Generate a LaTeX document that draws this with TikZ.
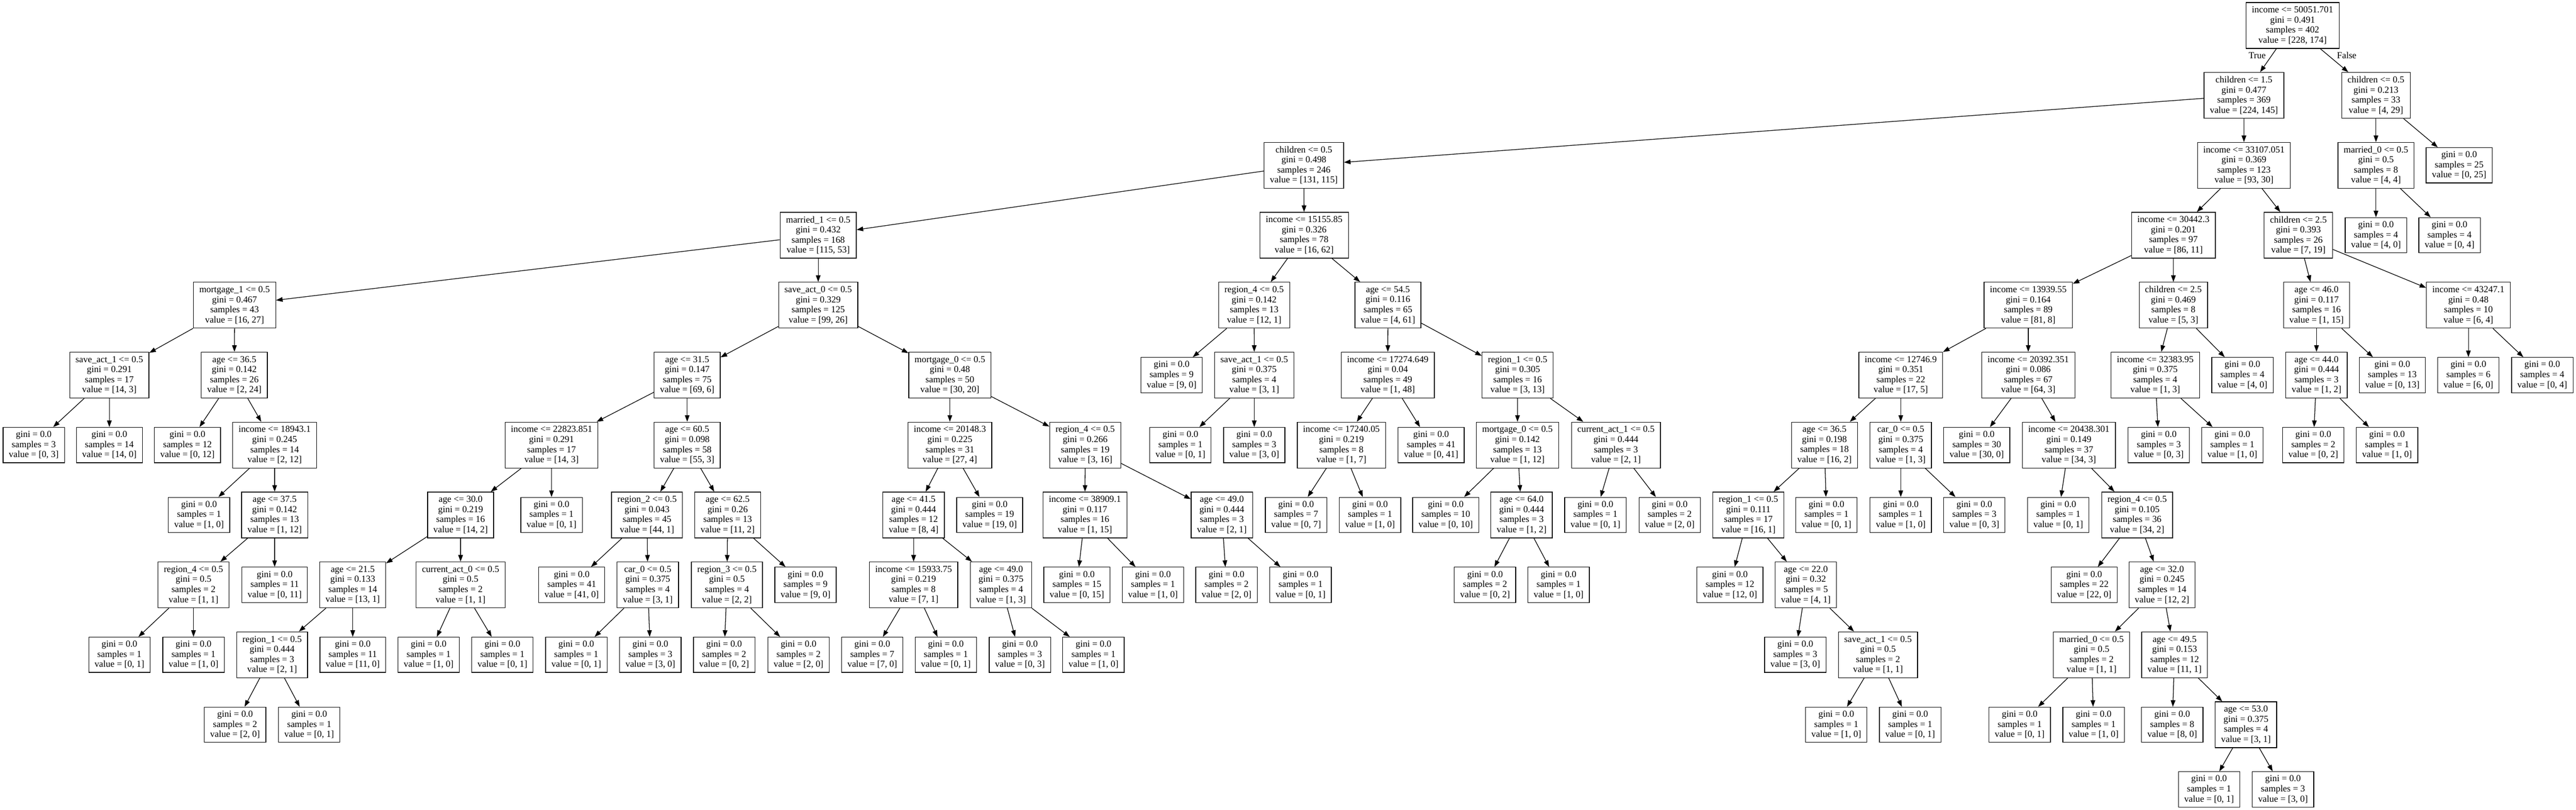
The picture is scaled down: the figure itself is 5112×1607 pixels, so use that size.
\documentclass[tikz,border=0pt]{standalone}
\usepackage{fontspec}
\setmainfont{Liberation Serif}
\usetikzlibrary{arrows.meta}
\newcommand\mkdec[7]{\node[dec] (#1) at (#2,#3) {#4\\gini = #5\\samples = #6\\value = #7};}
\newcommand\mkleaf[5]{\node[leaf] (#1) at (#2,#3) {gini = 0.0\\samples = #4\\value = #5};}
\begin{document}
\begin{tikzpicture}[x=1pt,y=-1pt,
  box/.style={draw=black, line width=1.3pt, rectangle, align=center, inner xsep=11.6pt, inner ysep=0pt, font=\fontsize{18.3}{20}\selectfont},
  dec/.style={box, minimum height=91pt},
  leaf/.style={box, minimum height=70pt},
  edge/.style={draw=black, line width=1.3pt, -{Triangle[length=13pt,width=9.2pt]}},
  lbl/.style={font=\fontsize{18.3}{20}\selectfont, inner sep=0pt}]
\fill[white] (0,0) rectangle (5112,1607);
\useasboundingbox (0,0) rectangle (5112,1607);
% rank 0
\mkdec{n0}{4549.5}{50.5}{income <= 50051.701}{0.491}{402}{[228, 174]}
% rank 1
\mkdec{n1}{4453}{189.25}{children <= 1.5}{0.477}{369}{[224, 145]}
\mkdec{n2}{4715}{189.25}{children <= 0.5}{0.213}{33}{[4, 29]}
% rank 2
\mkdec{n3}{2587.5}{328}{children <= 0.5}{0.498}{246}{[131, 115]}
\mkdec{n4}{4453}{328}{income <= 33107.051}{0.369}{123}{[93, 30]}
\mkdec{n5}{4715}{328}{married\_0 <= 0.5}{0.5}{8}{[4, 4]}
\mkleaf{n6}{4880}{328}{25}{[0, 25]}
% rank 3
\mkdec{n7}{1623.7}{466.75}{married\_1 <= 0.5}{0.432}{168}{[115, 53]}
\mkdec{n8}{2588}{466.75}{income <= 15155.85}{0.326}{78}{[16, 62]}
\mkdec{n9}{4313}{466.75}{income <= 30442.3}{0.201}{97}{[86, 11]}
\mkdec{n10}{4561}{466.75}{children <= 2.5}{0.393}{26}{[7, 19]}
\mkleaf{n11}{4715}{466.75}{4}{[4, 0]}
\mkleaf{n12}{4861}{466.75}{4}{[0, 4]}
% rank 4
\mkdec{n13}{465.5}{605.5}{mortgage\_1 <= 0.5}{0.467}{43}{[16, 27]}
\mkdec{n14}{1623.7}{605.5}{save\_act\_0 <= 0.5}{0.329}{125}{[99, 26]}
\mkdec{n15}{2488.8}{605.5}{region\_4 <= 0.5}{0.142}{13}{[12, 1]}
\mkdec{n16}{2754.3}{605.5}{age <= 54.5}{0.116}{65}{[4, 61]}
\mkdec{n17}{4025}{605.5}{income <= 13939.55}{0.164}{89}{[81, 8]}
\mkdec{n18}{4313}{605.5}{children <= 2.5}{0.469}{8}{[5, 3]}
\mkdec{n19}{4597}{605.5}{age <= 46.0}{0.117}{16}{[1, 15]}
\mkdec{n20}{4898.4}{605.5}{income <= 43247.1}{0.48}{10}{[6, 4]}
% rank 5
\mkdec{n21}{217}{744.25}{save\_act\_1 <= 0.5}{0.291}{17}{[14, 3]}
\mkdec{n22}{465}{744.25}{age <= 36.5}{0.142}{26}{[2, 24]}
\mkdec{n23}{1363.7}{744.25}{age <= 31.5}{0.147}{75}{[69, 6]}
\mkdec{n24}{1885}{744.25}{mortgage\_0 <= 0.5}{0.48}{50}{[30, 20]}
\mkleaf{n25}{2325}{744.25}{9}{[9, 0]}
\mkdec{n26}{2489}{744.25}{save\_act\_1 <= 0.5}{0.375}{4}{[3, 1]}
\mkdec{n27}{2754}{744.25}{income <= 17274.649}{0.04}{49}{[1, 48]}
\mkdec{n28}{3011.6}{744.25}{region\_1 <= 0.5}{0.305}{16}{[3, 13]}
\mkdec{n29}{3772}{744.25}{income <= 12746.9}{0.351}{22}{[17, 5]}
\mkdec{n30}{4025}{744.25}{income <= 20392.351}{0.086}{67}{[64, 3]}
\mkdec{n31}{4277}{744.25}{income <= 32383.95}{0.375}{4}{[1, 3]}
\mkleaf{n32}{4450}{744.25}{4}{[4, 0]}
\mkdec{n33}{4597}{744.25}{age <= 44.0}{0.444}{3}{[1, 2]}
\mkleaf{n34}{4747.5}{744.25}{13}{[0, 13]}
\mkleaf{n35}{4898.4}{744.25}{6}{[6, 0]}
\mkleaf{n36}{5045}{744.25}{4}{[0, 4]}
% rank 6
\mkleaf{n37}{67}{883}{3}{[0, 3]}
\mkleaf{n38}{217}{883}{14}{[14, 0]}
\mkleaf{n39}{372}{883}{12}{[0, 12]}
\mkdec{n40}{545}{883}{income <= 18943.1}{0.245}{14}{[2, 12]}
\mkdec{n41}{1094.5}{883}{income <= 22823.851}{0.291}{17}{[14, 3]}
\mkdec{n42}{1363.7}{883}{age <= 60.5}{0.098}{58}{[55, 3]}
\mkdec{n43}{1885}{883}{income <= 20148.3}{0.225}{31}{[27, 4]}
\mkdec{n44}{2153.5}{883}{region\_4 <= 0.5}{0.266}{19}{[3, 16]}
\mkleaf{n45}{2342.5}{883}{1}{[0, 1]}
\mkleaf{n46}{2489}{883}{3}{[3, 0]}
\mkdec{n47}{2662}{883}{income <= 17240.05}{0.219}{8}{[1, 7]}
\mkleaf{n48}{2840}{883}{41}{[0, 41]}
\mkdec{n49}{3011.3}{883}{mortgage\_0 <= 0.5}{0.142}{13}{[1, 12]}
\mkdec{n50}{3206.8}{883}{current\_act\_1 <= 0.5}{0.444}{3}{[2, 1]}
\mkdec{n51}{3620.6}{883}{age <= 36.5}{0.198}{18}{[16, 2]}
\mkdec{n52}{3772}{883}{car\_0 <= 0.5}{0.375}{4}{[1, 3]}
\mkleaf{n53}{3922.7}{883}{30}{[30, 0]}
\mkdec{n54}{4105.6}{883}{income <= 20438.301}{0.149}{37}{[34, 3]}
\mkleaf{n55}{4284}{883}{3}{[0, 3]}
\mkleaf{n56}{4430}{883}{1}{[1, 0]}
\mkleaf{n57}{4590.6}{883}{2}{[0, 2]}
\mkleaf{n58}{4737}{883}{1}{[1, 0]}
% rank 7
\mkleaf{n59}{395}{1021.75}{1}{[1, 0]}
\mkdec{n60}{545}{1021.75}{age <= 37.5}{0.142}{13}{[1, 12]}
\mkdec{n61}{914}{1021.75}{age <= 30.0}{0.219}{16}{[14, 2]}
\mkleaf{n62}{1094.5}{1021.75}{1}{[0, 1]}
\mkdec{n63}{1284}{1021.75}{region\_2 <= 0.5}{0.043}{45}{[44, 1]}
\mkdec{n64}{1444}{1021.75}{age <= 62.5}{0.26}{13}{[11, 2]}
\mkdec{n65}{1813}{1021.75}{age <= 41.5}{0.444}{12}{[8, 4]}
\mkleaf{n66}{1964}{1021.75}{19}{[19, 0]}
\mkdec{n67}{2153}{1021.75}{income <= 38909.1}{0.117}{16}{[1, 15]}
\mkdec{n68}{2424.7}{1021.75}{age <= 49.0}{0.444}{3}{[2, 1]}
\mkleaf{n69}{2572}{1021.75}{7}{[0, 7]}
\mkleaf{n70}{2718.8}{1021.75}{1}{[1, 0]}
\mkleaf{n71}{2869}{1021.75}{10}{[0, 10]}
\mkdec{n72}{3019.6}{1021.75}{age <= 64.0}{0.444}{3}{[1, 2]}
\mkleaf{n73}{3166}{1021.75}{1}{[0, 1]}
\mkleaf{n74}{3313.4}{1021.75}{2}{[2, 0]}
\mkdec{n75}{3469.6}{1021.75}{region\_1 <= 0.5}{0.111}{17}{[16, 1]}
\mkleaf{n76}{3624.5}{1021.75}{1}{[0, 1]}
\mkleaf{n77}{3772}{1021.75}{1}{[1, 0]}
\mkleaf{n78}{3918}{1021.75}{3}{[0, 3]}
\mkleaf{n79}{4084.6}{1021.75}{1}{[0, 1]}
\mkdec{n80}{4241}{1021.75}{region\_4 <= 0.5}{0.105}{36}{[34, 2]}
% rank 8
\mkdec{n81}{384}{1160.5}{region\_4 <= 0.5}{0.5}{2}{[1, 1]}
\mkleaf{n82}{545}{1160.5}{11}{[0, 11]}
\mkdec{n83}{700}{1160.5}{age <= 21.5}{0.133}{14}{[13, 1]}
\mkdec{n84}{914}{1160.5}{current\_act\_0 <= 0.5}{0.5}{2}{[1, 1]}
\mkleaf{n85}{1134.5}{1160.5}{41}{[41, 0]}
\mkdec{n86}{1285.5}{1160.5}{car\_0 <= 0.5}{0.375}{4}{[3, 1]}
\mkdec{n87}{1442.6}{1160.5}{region\_3 <= 0.5}{0.5}{4}{[2, 2]}
\mkleaf{n88}{1598.5}{1160.5}{9}{[9, 0]}
\mkdec{n89}{1813}{1160.5}{income <= 15933.75}{0.219}{8}{[7, 1]}
\mkdec{n90}{1986.5}{1160.5}{age <= 49.0}{0.375}{4}{[1, 3]}
\mkleaf{n91}{2137}{1160.5}{15}{[0, 15]}
\mkleaf{n92}{2288}{1160.5}{1}{[1, 0]}
\mkleaf{n93}{2434}{1160.5}{2}{[2, 0]}
\mkleaf{n94}{2581}{1160.5}{1}{[0, 1]}
\mkleaf{n95}{2947}{1160.5}{2}{[0, 2]}
\mkleaf{n96}{3093}{1160.5}{1}{[1, 0]}
\mkleaf{n97}{3433}{1160.5}{12}{[12, 0]}
\mkdec{n98}{3583.6}{1160.5}{age <= 22.0}{0.32}{5}{[4, 1]}
\mkleaf{n99}{4136}{1160.5}{22}{[22, 0]}
\mkdec{n100}{4290.4}{1160.5}{age <= 32.0}{0.245}{14}{[12, 2]}
% rank 9
\mkleaf{n101}{237}{1299.25}{1}{[0, 1]}
\mkleaf{n102}{384}{1299.25}{1}{[1, 0]}
\mkdec{n103}{540}{1299.25}{region\_1 <= 0.5}{0.444}{3}{[2, 1]}
\mkleaf{n104}{700}{1299.25}{11}{[11, 0]}
\mkleaf{n105}{850.6}{1299.25}{1}{[1, 0]}
\mkleaf{n106}{997}{1299.25}{1}{[0, 1]}
\mkleaf{n107}{1143.6}{1299.25}{1}{[0, 1]}
\mkleaf{n108}{1290.6}{1299.25}{3}{[3, 0]}
\mkleaf{n109}{1437}{1299.25}{2}{[0, 2]}
\mkleaf{n110}{1584.6}{1299.25}{2}{[2, 0]}
\mkleaf{n111}{1731}{1299.25}{7}{[7, 0]}
\mkleaf{n112}{1877}{1299.25}{1}{[0, 1]}
\mkleaf{n113}{2024}{1299.25}{3}{[0, 3]}
\mkleaf{n114}{2170}{1299.25}{1}{[1, 0]}
\mkleaf{n115}{3562.6}{1299.25}{3}{[3, 0]}
\mkdec{n116}{3726.8}{1299.25}{save\_act\_1 <= 0.5}{0.5}{2}{[1, 1]}
\mkdec{n117}{4150.6}{1299.25}{married\_0 <= 0.5}{0.5}{2}{[1, 1]}
\mkdec{n118}{4315.4}{1299.25}{age <= 49.5}{0.153}{12}{[11, 1]}
% rank 10
\mkleaf{n119}{466.5}{1438}{2}{[2, 0]}
\mkleaf{n120}{613.6}{1438}{1}{[0, 1]}
\mkleaf{n121}{3644}{1438}{1}{[1, 0]}
\mkleaf{n122}{3790.6}{1438}{1}{[0, 1]}
\mkleaf{n123}{4008}{1438}{1}{[0, 1]}
\mkleaf{n124}{4154.7}{1438}{1}{[1, 0]}
\mkleaf{n125}{4310.7}{1438}{8}{[8, 0]}
\mkdec{n126}{4457}{1438}{age <= 53.0}{0.375}{4}{[3, 1]}
% rank 11
\mkleaf{n127}{4383.8}{1566.25}{1}{[0, 1]}
\mkleaf{n128}{4530.5}{1566.25}{3}{[3, 0]}
% edges
\foreach \a/\b in {n0/n1,n0/n2,n1/n3,n1/n4,n2/n5,n2/n6,n3/n7,n3/n8,n4/n9,n4/n10,n5/n11,n5/n12,
  n7/n13,n7/n14,n8/n15,n8/n16,n9/n17,n9/n18,n10/n19,n10/n20,
  n13/n21,n13/n22,n14/n23,n14/n24,n15/n25,n15/n26,n16/n27,n16/n28,n17/n29,n17/n30,n18/n31,n18/n32,n19/n33,n19/n34,n20/n35,n20/n36,
  n21/n37,n21/n38,n22/n39,n22/n40,n23/n41,n23/n42,n24/n43,n24/n44,n26/n45,n26/n46,n27/n47,n27/n48,n28/n49,n28/n50,
  n29/n51,n29/n52,n30/n53,n30/n54,n31/n55,n31/n56,n33/n57,n33/n58,
  n40/n59,n40/n60,n41/n61,n41/n62,n42/n63,n42/n64,n43/n65,n43/n66,n44/n67,n44/n68,n47/n69,n47/n70,n49/n71,n49/n72,n50/n73,n50/n74,
  n51/n75,n51/n76,n52/n77,n52/n78,n54/n79,n54/n80,
  n60/n81,n60/n82,n61/n83,n61/n84,n63/n85,n63/n86,n64/n87,n64/n88,n65/n89,n65/n90,n67/n91,n67/n92,n68/n93,n68/n94,n72/n95,n72/n96,
  n75/n97,n75/n98,n80/n99,n80/n100,
  n81/n101,n81/n102,n83/n103,n83/n104,n84/n105,n84/n106,n86/n107,n86/n108,n87/n109,n87/n110,n89/n111,n89/n112,n90/n113,n90/n114,
  n98/n115,n98/n116,n100/n117,n100/n118,
  n103/n119,n103/n120,n116/n121,n116/n122,n117/n123,n117/n124,n118/n125,n118/n126,n126/n127,n126/n128}
  \draw[edge] (\a) -- (\b);
\node[lbl] (tl) at (4479.3,110) {True};
\node[lbl] (fl) at (4657,110) {False};
\end{tikzpicture}
\end{document}
